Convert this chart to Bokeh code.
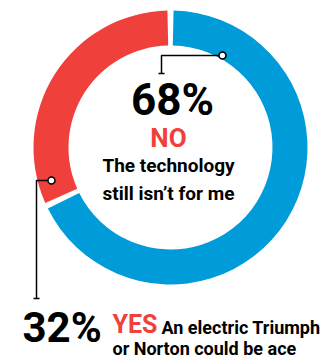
import math
from bokeh.plotting import figure
from bokeh.models import Range1d
from bokeh.core.properties import value
from bokeh.embed import file_html
from bokeh.resources import INLINE

# ---- data ----
answers = ["NO", "YES"]
shares = [68, 32]
colors = ["#009BD9", "#F0403C"]
no_caption = ["The technology", "still isn\u2019t for me"]
yes_caption = ["An electric Triumph", "or Norton could be ace"]

W, H = 327, 360
p = figure(width=W, height=H, x_range=Range1d(0, W), y_range=Range1d(0, H),
           output_backend="svg", toolbar_location=None, min_border=0)
p.axis.visible = False
p.grid.visible = False
p.outline_line_color = None
p.background_fill_color = "white"
p.border_fill_color = "white"

cx, cy = 170, 213
r_in, r_out = 102, 137
gap = 0.045
total = sum(shares)
start = math.pi / 2
for share, col in zip(shares, colors):
    span = 2 * math.pi * share / total
    p.annular_wedge(x=[cx], y=[cy], inner_radius=r_in, outer_radius=r_out,
                    start_angle=start - gap / 2, end_angle=start - span + gap / 2,
                    direction="clock", color=col, line_color=None)
    start -= span

# leader for NO
p.line(x=[222, 161, 161], y=[H - 55, H - 55, H - 73], line_color="black", line_width=1.5)
p.line(x=[158, 164], y=[H - 73, H - 73], line_color="black", line_width=1.5)
p.scatter(x=[222], y=[H - 55], size=7, marker="circle", fill_color="white",
          line_color="black", line_width=1.5)

# leader for YES
p.line(x=[51, 36, 36], y=[H - 180, H - 180, H - 298], line_color="black", line_width=1.5)
p.line(x=[33, 39], y=[H - 298, H - 298], line_color="black", line_width=1.5)
p.scatter(x=[51], y=[H - 180], size=7, marker="circle", fill_color="white",
          line_color="black", line_width=1.5)

FONT = value("Roboto")

def txt(x, base, s, size, color="black", align="left"):
    # base: wanted baseline in pixels from top; compensate renderer offset
    p.text(x=[x], y=[H - (base - 0.35 * size)], text=[s], text_font=FONT,
           text_font_style="bold", text_font_size=f"{size}px", text_color=color,
           text_align=align, text_baseline="alphabetic")

txt(172, 115, f"{shares[0]}%", 44, align="center")
txt(168, 147, answers[0], 26, color=colors[1], align="center")
txt(168, 172, no_caption[0], 19, align="center")
txt(168, 200, no_caption[1], 19, align="center")

txt(22, 342, f"{shares[1]}%", 42)
txt(112, 333, answers[1], 25, color=colors[1])
txt(161, 333, yes_caption[0], 18)
txt(112, 354, yes_caption[1], 18)

open("out.html", "w").write(file_html(p, INLINE))
